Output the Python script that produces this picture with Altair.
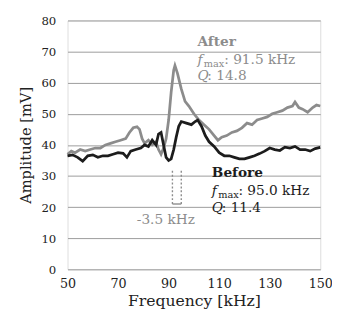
import altair as alt
import pandas as pd

# ---- data ----
after_f = [50, 51.5, 53, 55, 57, 59, 61, 63, 65, 67, 69, 71, 73, 74.5, 76, 77.5, 78.5, 79.5, 80.5,
           82, 83.5, 85, 86, 87, 88, 89, 90, 91, 92, 92.5, 93.5, 95, 96.5, 98, 100, 102, 104, 106,
           108, 109.5, 111, 113, 115, 117, 119, 121, 123, 125, 127, 129, 131, 133, 135, 137, 139,
           140, 141.5, 143, 145, 147, 148.5, 150]
after_a = [37, 38, 37.5, 38.5, 38, 38.5, 39, 39, 40, 40.5, 41, 41.5, 42, 44, 45.5, 45.8, 45, 42, 40.5,
           41.5, 40, 41, 38.5, 37, 39, 42, 48, 57, 64, 65.5, 63, 58, 54, 52.5, 50, 48, 46.5, 45,
           43, 41.5, 42.5, 43, 44, 44.5, 45.5, 47, 46.5, 48, 48.5, 49, 50, 50.5, 51, 52, 52.5,
           53.8, 52, 51.5, 50.5, 52, 52.8, 52.5]

before_f = [50, 52, 54, 56, 58, 60, 62, 64, 66, 68, 70, 72, 73.5, 75, 77, 79, 80.5, 82, 83.5, 85,
            86, 87, 88, 89, 90, 91, 92, 93, 94, 95, 97, 99, 100.5, 101.5, 103, 104.5, 106, 108,
            110, 112, 114, 116, 118, 120, 122, 124, 126, 128, 130, 132, 134, 136, 138, 140, 142,
            144, 146, 148, 150]
before_a = [36.5, 36.8, 36, 34.8, 36.5, 36.8, 36, 36.5, 36.5, 37, 37.5, 37.3, 36, 38, 38.5, 39, 40,
            39.5, 41.5, 40, 43.5, 44, 40, 36, 35, 35.5, 38.5, 42.5, 46, 47.5, 47, 46.5, 47.5, 48,
            46, 43, 41, 39.5, 37.5, 36.5, 36.5, 36, 35.5, 35.5, 36, 36.5, 37.2, 38, 39, 38.5, 38.2,
            39.3, 39, 39.5, 38.5, 38.5, 38, 38.8, 39.2]

x_ticks = [50, 70, 90, 110, 130, 150]
y_ticks = [0, 10, 20, 30, 40, 50, 60, 70, 80]

fmax_after = 91.5
fmax_before = 95.0
dim_low, dim_high = 21.0, 32.0

FONT = "DejaVu Serif"
GRAY = "#8c8c8c"
BLACK = "#1c1c1c"

df = pd.concat([
    pd.DataFrame({"f": after_f, "a": after_a, "s": "After"}),
    pd.DataFrame({"f": before_f, "a": before_a, "s": "Before"}),
])

x = alt.X("f:Q", scale=alt.Scale(domain=[50, 150], nice=False),
          axis=alt.Axis(values=x_ticks, title="Frequency [kHz]", grid=False, ticks=False,
                        domain=False, labelFontSize=13, titleFontSize=16, labelPadding=9,
                        titlePadding=2, labelFont=FONT, titleFont=FONT, titleFontWeight="normal",
                        labelColor="#222", titleColor="#222", labelFlush=False,
                        labelOverlap=False))
y = alt.Y("a:Q", scale=alt.Scale(domain=[0, 80], nice=False),
          axis=alt.Axis(values=y_ticks, tickCount=9, title="Amplitude [mV]", grid=True,
                        gridColor="#9a9a9a", gridWidth=1, ticks=False, domain=False,
                        labelFontSize=12, titleFontSize=15, labelPadding=12, titlePadding=8,
                        labelFont=FONT, titleFont=FONT, titleFontWeight="normal",
                        labelColor="#222", titleColor="#222", labelOverlap=False))

lines = alt.Chart(df).mark_line(strokeWidth=2.8).encode(
    x=x, y=y,
    color=alt.Color("s:N", scale=alt.Scale(domain=["After", "Before"], range=[GRAY, BLACK]),
                    legend=None),
    order=alt.Order("f:Q"),
)

# dimension marker for the frequency shift
vdf = pd.DataFrame({"f": [fmax_after, fmax_before], "y1": [dim_low, dim_low], "y2": [dim_high, dim_high]})
vrules = alt.Chart(vdf).mark_rule(color=GRAY, strokeDash=[2, 2], strokeWidth=1.4).encode(
    x="f:Q", y="y1:Q", y2="y2:Q")
hdf = pd.DataFrame({"f1": [fmax_after], "f2": [fmax_before], "y": [dim_low]})
hrule = alt.Chart(hdf).mark_rule(color=GRAY, strokeWidth=1.4).encode(x="f1:Q", x2="f2:Q", y="y:Q")

def txt(rows, color, size=14, weight="normal", style="normal", dy=0):
    d = pd.DataFrame(rows, columns=["f", "a", "t"])
    return alt.Chart(d).mark_text(align="left", baseline="alphabetic", font=FONT, fontSize=size,
                                  fontWeight=weight, fontStyle=style, color=color, dy=dy).encode(
        x="f:Q", y="a:Q", text="t:N")

bold_after = txt([(101.4, 71.8, "After")], GRAY, weight="bold")
bold_before = txt([(107.1, 29.8, "Before")], BLACK, weight="bold")
ital_after = txt([(101.4, 66.1, "f"), (101.4, 60.8, "Q")], GRAY, style="italic")
ital_before = txt([(107.1, 23.8, "f"), (107.1, 18.5, "Q")], BLACK, style="italic")
sub_after = txt([(103.9, 66.1, "max")], GRAY, size=10, dy=3)
sub_before = txt([(109.6, 23.8, "max")], BLACK, size=10, dy=3)
reg_after = txt([(112.0, 66.1, ": 91.5 kHz"), (105.3, 60.8, ": 14.8")], GRAY)
reg_before = txt([(117.6, 23.8, ": 95.0 kHz"), (111.0, 18.5, ": 11.4")], BLACK)
shift = txt([(77.4, 14.5, "-3.5 kHz")], GRAY)

chart = alt.layer(
    lines, vrules, hrule, bold_after, bold_before, ital_after, ital_before,
    sub_after, sub_before, reg_after, reg_before, shift
).properties(
    width=259, height=255,
    autosize=alt.AutoSizeParams(type="none"),
    padding={"left": 61, "top": 9, "right": 12, "bottom": 42},
).configure_view(stroke="#111", strokeWidth=1.6).configure(background="white")

chart.save("out.html", embed_options={"renderer": "svg", "actions": False})
